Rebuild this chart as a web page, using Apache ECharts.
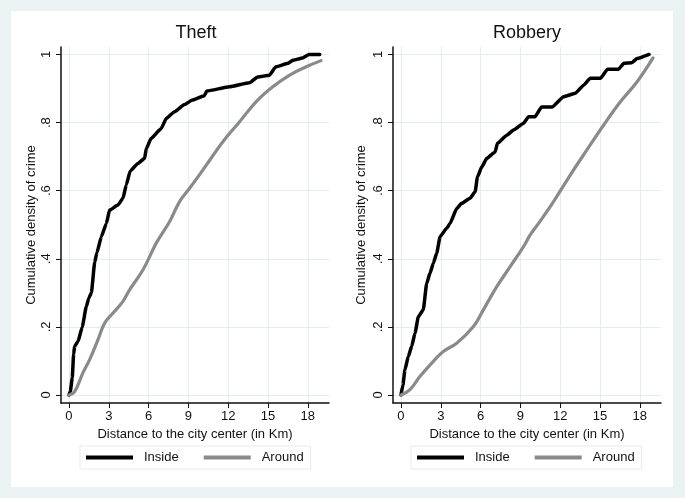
<!DOCTYPE html>
<html>
<head>
<meta charset="utf-8">
<script src="https://cdn.jsdelivr.net/npm/echarts@6/dist/echarts.min.js"></script>
<style>
  html, body { margin: 0; padding: 0; background: #eaf2f3; }
  #panel { position: absolute; left: 11px; top: 11px; width: 662px; height: 476px; background: #ffffff; }
  #chart { position: absolute; left: 0; top: 0; width: 685px; height: 498px; }
</style>
</head>
<body>
<div id="panel"></div>
<div id="chart"></div>
<script>
// ---- Data ----
const panelTitles = ['Theft', 'Robbery'];
const seriesNames = ['Inside', 'Around'];
const xTicks = [0, 3, 6, 9, 12, 15, 18];
const yTicks = [0, 0.2, 0.4, 0.6, 0.8, 1];
const yTickLabels = ['0', '.2', '.4', '.6', '.8', '1'];

const theftInsideDist = [0, 0.1, 0.25, 0.35, 0.43, 0.68, 1.0, 1.31, 1.5, 1.69, 1.94, 2.1, 2.44, 2.82, 3.06, 3.69, 4.07, 4.32, 4.62, 5.2, 5.7, 5.83, 6.2, 6.96, 7.33, 7.96, 8.71, 9.3, 10.2, 10.4, 12.1, 13.6, 14.23, 15.1, 15.6, 16.5, 16.87, 17.6, 18.1, 18.9];
const theftInsideCum  = [0, 0.01, 0.05, 0.12, 0.143, 0.157, 0.20, 0.26, 0.285, 0.30, 0.39, 0.417, 0.465, 0.504, 0.543, 0.558, 0.578, 0.617, 0.658, 0.68, 0.695, 0.724, 0.754, 0.783, 0.812, 0.832, 0.853, 0.866, 0.879, 0.893, 0.905, 0.917, 0.934, 0.939, 0.964, 0.974, 0.983, 0.99, 1.0, 1.0];

const theftAroundDist = [0, 0.43, 1.05, 1.56, 2.18, 2.69, 3.31, 4.07, 4.57, 5.57, 6.58, 7.58, 8.34, 9.09, 9.71, 10.35, 11.6, 12.85, 14.1, 15.36, 16.6, 17.88, 19.0];
const theftAroundCum  = [0, 0.01, 0.065, 0.104, 0.162, 0.211, 0.24, 0.275, 0.309, 0.367, 0.446, 0.509, 0.568, 0.607, 0.640, 0.675, 0.744, 0.802, 0.861, 0.905, 0.939, 0.964, 0.982];

const robberyInsideDist = [0, 0.15, 0.3, 0.55, 0.81, 1.06, 1.31, 1.68, 1.94, 2.19, 2.44, 2.69, 2.95, 3.45, 3.7, 4.2, 4.58, 5.21, 5.59, 5.77, 6.09, 6.47, 7.1, 7.27, 7.98, 8.48, 9.24, 9.62, 10.1, 10.6, 11.4, 12.26, 13.14, 13.77, 14.27, 15.03, 15.58, 16.4, 16.8, 17.4, 17.8, 18.7];
const robberyInsideCum  = [0, 0.03, 0.074, 0.113, 0.143, 0.182, 0.23, 0.25, 0.328, 0.358, 0.387, 0.416, 0.465, 0.49, 0.504, 0.548, 0.563, 0.578, 0.597, 0.641, 0.67, 0.695, 0.714, 0.739, 0.763, 0.778, 0.798, 0.817, 0.817, 0.846, 0.846, 0.876, 0.886, 0.91, 0.93, 0.93, 0.957, 0.957, 0.974, 0.976, 0.988, 1.0];

const robberyAroundDist = [0, 0.68, 1.44, 2.44, 3.19, 4.2, 5.46, 6.21, 7.22, 8.23, 9.24, 9.74, 10.37, 11.5, 12.76, 14.0, 15.28, 16.54, 17.8, 19.0];
const robberyAroundCum  = [0, 0.016, 0.055, 0.099, 0.128, 0.152, 0.201, 0.25, 0.318, 0.377, 0.436, 0.47, 0.504, 0.568, 0.646, 0.719, 0.793, 0.861, 0.92, 0.99];

// ---- Build ----
function pairs(xs, ys) { return xs.map((x, i) => [x, ys[i]]); }
const FONT = 'Liberation Sans, Arial, Helvetica, sans-serif';
const gridColor = '#e3eef2';
const grids = [
  { left: 61, top: 47, width: 268, height: 356 },
  { left: 393, top: 47, width: 268, height: 356 }
];
const titleCenters = [196, 527];
const legendLefts = [80, 411];
const yNameGaps = [23, 25];

function xAxisDef(i) {
  return {
    type: 'value', gridIndex: i, min: -0.6, max: 19.6,
    name: 'Distance to the city center (in Km)', nameLocation: 'middle', nameGap: 19,
    nameTextStyle: { fontFamily: FONT, fontSize: 13, color: '#111' },
    axisLine: { show: true, onZero: false, lineStyle: { color: '#111', width: 1.5 } },
    axisTick: { show: true, length: 5, customValues: xTicks, lineStyle: { color: '#111', width: 1 } },
    axisLabel: { customValues: xTicks, margin: 7, fontFamily: FONT, fontSize: 13, color: '#111' },
    splitLine: { show: true, lineStyle: { color: gridColor, width: 1 } }
  };
}
function yAxisDef(i) {
  return {
    type: 'value', gridIndex: i, min: -0.0235, max: 1.022,
    name: 'Cumulative density of crime', nameLocation: 'middle', nameGap: yNameGaps[i],
    nameTextStyle: { fontFamily: FONT, fontSize: 13, color: '#111' },
    axisLine: { show: true, onZero: false, lineStyle: { color: '#111', width: 1.5 } },
    axisTick: { show: true, length: 5, customValues: yTicks, lineStyle: { color: '#111', width: 1 } },
    axisLabel: {
      customValues: yTicks, rotate: 90, margin: 8, fontFamily: FONT, fontSize: 13, color: '#111',
      formatter: v => { const k = yTicks.findIndex(t => Math.abs(t - v) < 1e-6); return k >= 0 ? yTickLabels[k] : ''; }
    },
    splitLine: { show: true, lineStyle: { color: gridColor, width: 1 } }
  };
}

const dataSets = [
  [pairs(theftInsideDist, theftInsideCum), pairs(theftAroundDist, theftAroundCum)],
  [pairs(robberyInsideDist, robberyInsideCum), pairs(robberyAroundDist, robberyAroundCum)]
];
const lineColors = ['#000000', '#8a8a8a'];
const lineWidths = [3.5, 3.2];
const smoothness = [0.15, 0.4];
const monotone = ['x', null];

const series = [];
for (let p = 0; p < 2; p++) {
  for (let s = 0; s < 2; s++) {
    const ser = {
      type: 'line', name: seriesNames[s], xAxisIndex: p, yAxisIndex: p,
      data: dataSets[p][s], showSymbol: false, symbol: 'none', animation: false,
      smooth: smoothness[s],
      lineStyle: { color: lineColors[s], width: lineWidths[s], join: 'round', cap: 'round' },
      itemStyle: { color: lineColors[s] }
    };
    if (monotone[s]) ser.smoothMonotone = monotone[s];
    series.push(ser);
  }
}

const option = {
  backgroundColor: 'transparent',
  animation: false,
  title: panelTitles.map((t, i) => ({
    text: t, left: titleCenters[i], top: 24, textAlign: 'center', padding: 0,
    textStyle: { fontFamily: FONT, fontSize: 18, fontWeight: 'normal', color: '#111' }
  })),
  grid: grids,
  xAxis: [xAxisDef(0), xAxisDef(1)],
  yAxis: [yAxisDef(0), yAxisDef(1)],
  legend: legendLefts.map(l => ({
    left: l, top: 446, orient: 'horizontal',
    data: seriesNames.map(n => ({ name: n, icon: 'rect' })),
    itemWidth: 47, itemHeight: 4, itemGap: 25,
    padding: [5, 7, 5, 6],
    backgroundColor: '#ffffff', borderColor: '#e4ecee', borderWidth: 1,
    selectedMode: false,
    textStyle: { fontFamily: FONT, fontSize: 13, color: '#111', padding: [0, 0, 0, 6] }
  })),
  series: series
};

const chart = echarts.init(document.getElementById('chart'), null, { renderer: 'canvas' });
chart.setOption(option);
</script>
</body>
</html>
